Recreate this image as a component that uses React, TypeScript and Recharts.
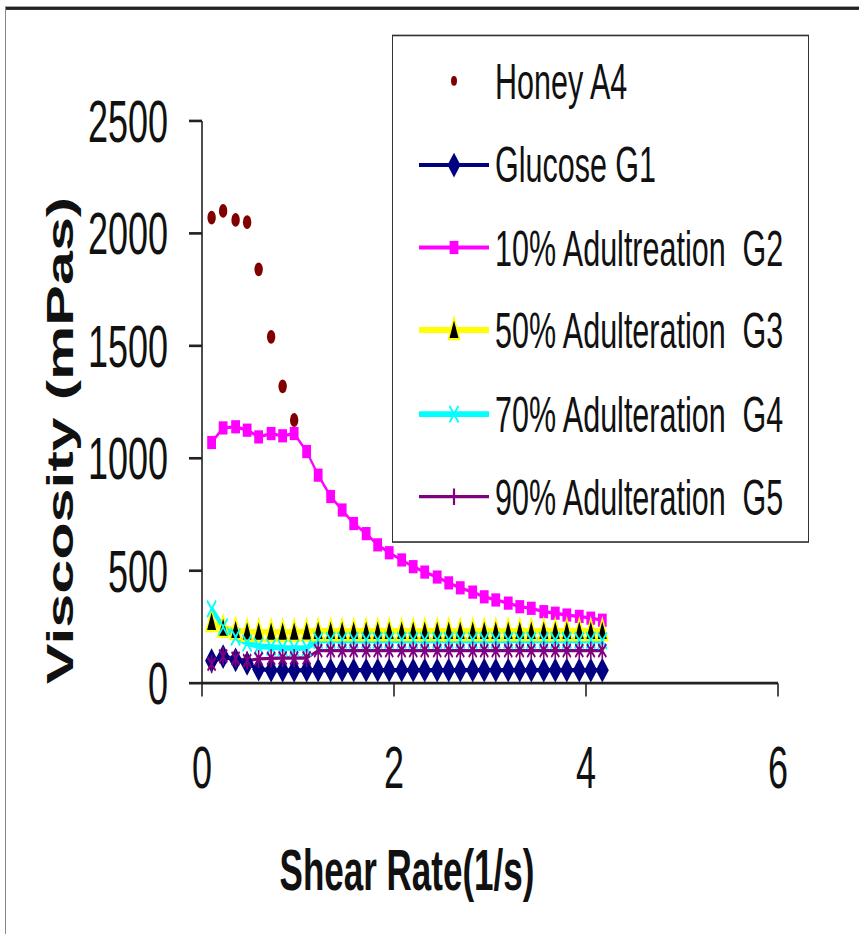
import React from 'react';
import { ComposedChart, Line, Scatter, XAxis, YAxis, Customized } from 'recharts';

// Shear rate (1/s) at which every sample was measured
const shearRate = [
  0.10, 0.22, 0.35, 0.47, 0.59, 0.72, 0.84, 0.96, 1.09, 1.21, 1.34, 1.46,
  1.58, 1.71, 1.83, 1.95, 2.08, 2.20, 2.32, 2.45, 2.57, 2.69, 2.82, 2.94,
  3.06, 3.19, 3.31, 3.43, 3.56, 3.68, 3.80, 3.93, 4.05, 4.17,
];

// Viscosity (mPas) per sample
const honeyA4 = [2070, 2100, 2060, 2050, 1840, 1540, 1320, 1170];

const glucoseG1 = [
  100, 118, 104, 88, 62, 58, 57, 57, 58, 58, 58, 58,
  58, 58, 58, 58, 58, 58, 58, 58, 58, 58, 58, 58,
  58, 58, 58, 58, 58, 58, 58, 58, 58, 58,
];

const adulteration10G2 = [
  1070, 1135, 1140, 1125, 1095, 1110, 1100, 1110, 1030, 925, 830, 770,
  710, 665, 615, 580, 548, 518, 494, 472, 446, 424, 405, 384,
  370, 356, 340, 333, 318, 311, 303, 297, 289, 280,
];

const adulteration50G3 = [
  272, 246, 236, 229, 228, 228, 228, 228, 230, 232, 232, 232,
  232, 232, 232, 232, 232, 232, 232, 232, 232, 232, 232, 232,
  232, 232, 232, 232, 232, 232, 232, 232, 232, 232,
];

const adulteration70G4 = [
  330, 250, 205, 178, 165, 160, 157, 156, 157, 190, 190, 190,
  190, 190, 190, 190, 190, 190, 190, 190, 190, 190, 190, 190,
  190, 190, 190, 190, 190, 190, 190, 190, 190, 188,
];

const adulteration90G5 = [
  85, 120, 110, 100, 108, 110, 112, 112, 112, 145, 145, 145,
  145, 145, 145, 145, 145, 145, 145, 145, 145, 145, 145, 145,
  145, 145, 145, 145, 145, 145, 145, 145, 145, 145,
];

const xTicks = [0, 2, 4, 6];
const yTicks = [0, 500, 1000, 1500, 2000, 2500];

const seriesLabels = [
  'Honey A4',
  'Glucose G1',
  '10% Adultreation  G2',
  '50% Adulteration  G3',
  '70% Adulteration  G4',
  '90% Adulteration  G5',
];

const rows = shearRate.map((x, i) => ({
  x,
  g1: glucoseG1[i],
  g2: adulteration10G2[i],
  g3: adulteration50G3[i],
  g4: adulteration70G4[i],
  g5: adulteration90G5[i],
}));
const honeyRows = honeyA4.map((v, i) => ({ x: shearRate[i], honey: v }));

// The whole figure is drawn at a compressed height and stretched vertically
const W = 859;
const H = 934;
const STRETCH = 1.65;
const H0 = H / STRETCH;

const FONT = 'Arial, "Liberation Sans", sans-serif';

const C = {
  honey: '#800000',
  g1: '#000080',
  g2: '#ff00ff',
  g3: '#ffff00',
  g4: '#00ffff',
  g5: '#800080',
};

// marker shapes
const DiamondMark = ({ cx, cy }: any) => (
  <path d={`M${cx},${cy - 7.5}L${cx + 6.5},${cy}L${cx},${cy + 7.5}L${cx - 6.5},${cy}Z`} fill={C.g1} />
);
const SquareMark = ({ cx, cy }: any) => (
  <rect x={cx - 4.4} y={cy - 4} width={8.8} height={8} fill={C.g2} />
);
const TriangleMark = ({ cx, cy }: any) => (
  <path d={`M${cx},${cy - 7.5}L${cx + 5.5},${cy + 5.5}L${cx - 5.5},${cy + 5.5}Z`} fill="#000" stroke={C.g3} strokeWidth={1.4} />
);
const CrossMark = ({ cx, cy }: any) => (
  <path d={`M${cx - 4.5},${cy - 5}L${cx + 4.5},${cy + 5}M${cx - 4.5},${cy + 5}L${cx + 4.5},${cy - 5}`} stroke={C.g4} strokeWidth={1.6} fill="none" />
);
const StarMark = ({ cx, cy }: any) => (
  <path
    d={`M${cx - 4},${cy - 4}L${cx + 4},${cy + 4}M${cx - 4},${cy + 4}L${cx + 4},${cy - 4}M${cx},${cy - 5.5}L${cx},${cy + 5.5}`}
    stroke={C.g5}
    strokeWidth={1.6}
    fill="none"
  />
);
const DotMark = ({ cx, cy }: any) => <circle cx={cx} cy={cy} r={4.2} fill={C.honey} />;
const SmallDotMark = ({ cx, cy }: any) => <circle cx={cx} cy={cy} r={3} fill={C.honey} />;
const PlusMark = ({ cx, cy }: any) => (
  <path d={`M${cx},${cy - 5}L${cx},${cy + 5}`} stroke={C.g5} strokeWidth={2.2} fill="none" />
);

const markerOf = (M: any, tag: string) => (p: any) =>
  p.cx == null || p.cy == null ? <g key={`${tag}-${p.index}`} /> : <M key={`${tag}-${p.index}`} cx={p.cx} cy={p.cy} />;

const YTick = ({ x, y, payload }: any) => (
  <text x={x} y={y} dy="0.355em" textAnchor="end" fontSize={36} fontFamily={FONT} fill="#111">
    {payload.value}
  </text>
);
const XTick = ({ x, y, payload }: any) => (
  <text x={x} y={y} dy="0.71em" textAnchor="middle" fontSize={36} fontFamily={FONT} fill="#111">
    {payload.value}
  </text>
);

const Titles = () => (
  <g>
    <text x={407} y={527} dy="0.35em" textAnchor="middle" fontSize={35} fontWeight="bold" fontFamily={FONT} fill="#111">
      Shear Rate(1/s)
    </text>
    <text
      x={60}
      y={267}
      dy="0.35em"
      textAnchor="middle"
      fontSize={37}
      fontWeight="bold"
      fontFamily={FONT}
      fill="#111"
      transform="rotate(-90, 60, 267)"
    >
      Viscosity (mPas)
    </text>
  </g>
);

const legendMarks = [
  { line: null, width: 0, M: SmallDotMark },
  { line: C.g1, width: 2.5, M: DiamondMark },
  { line: C.g2, width: 2.5, M: SquareMark },
  { line: C.g3, width: 3.5, M: TriangleMark },
  { line: C.g4, width: 3.5, M: CrossMark },
  { line: C.g5, width: 2, M: PlusMark },
];

const LegendBox = () => (
  <div
    style={{
      position: 'absolute',
      left: 392,
      top: 20.6,
      width: 417,
      height: 308,
      boxSizing: 'border-box',
      border: '1.5px solid #333',
      background: '#fff',
      paddingTop: 2.5,
    }}
  >
    {seriesLabels.map((label, i) => {
      const { line, width, M } = legendMarks[i];
      return (
        <div key={label} style={{ display: 'flex', alignItems: 'center', height: 50.4 }}>
          <svg width={102} height={20} style={{ flex: 'none' }}>
            {line && <line x1={26} x2={96} y1={10} y2={10} stroke={line} strokeWidth={width} />}
            <M cx={61} cy={10} />
          </svg>
          <span style={{ fontFamily: FONT, fontSize: 30.5, color: '#111', whiteSpace: 'pre', lineHeight: 1 }}>{label}</span>
        </div>
      );
    })}
  </div>
);

export default function App() {
  return (
    <div style={{ position: 'absolute', left: 0, top: 0, width: W, height: H, overflow: 'hidden', background: '#fff' }}>
      <div style={{ position: 'relative', width: W, height: H0, transform: `scaleY(${STRETCH})`, transformOrigin: '0 0' }}>
        <ComposedChart width={W} height={H0} data={rows} margin={{ top: 73.3, right: 81, bottom: 92, left: 0 }}>
          <XAxis
            dataKey="x"
            type="number"
            domain={[0, 6]}
            ticks={xTicks}
            height={60}
            tickSize={8}
            tickMargin={30}
            tick={<XTick />}
            axisLine={{ stroke: '#222', strokeWidth: 1.6 }}
            tickLine={{ stroke: '#222', strokeWidth: 1.6 }}
          />
          <YAxis
            type="number"
            domain={[0, 2500]}
            ticks={yTicks}
            width={202}
            tickSize={13}
            tickMargin={21}
            tick={<YTick />}
            axisLine={{ stroke: '#222', strokeWidth: 1.6 }}
            tickLine={{ stroke: '#222', strokeWidth: 1.6 }}
          />
          <Scatter data={honeyRows} dataKey="honey" shape={markerOf(DotMark, 'h')} isAnimationActive={false} />
          <Line type="linear" dataKey="g1" stroke={C.g1} strokeWidth={2.5} dot={markerOf(DiamondMark, 'g1')} isAnimationActive={false} />
          <Line type="linear" dataKey="g2" stroke={C.g2} strokeWidth={2} dot={markerOf(SquareMark, 'g2')} isAnimationActive={false} />
          <Line type="linear" dataKey="g3" stroke={C.g3} strokeWidth={3.5} dot={markerOf(TriangleMark, 'g3')} isAnimationActive={false} />
          <Line type="linear" dataKey="g4" stroke={C.g4} strokeWidth={3.5} dot={markerOf(CrossMark, 'g4')} isAnimationActive={false} />
          <Line type="linear" dataKey="g5" stroke={C.g5} strokeWidth={2} dot={markerOf(StarMark, 'g5')} isAnimationActive={false} />
          <Customized component={Titles} />
        </ComposedChart>
        <LegendBox />
        <div style={{ position: 'absolute', left: 5, top: 3.8, width: W - 5, height: 2, background: '#222' }} />
        <div style={{ position: 'absolute', left: 5, top: 3.8, width: 1.2, height: H0, background: '#888' }} />
      </div>
    </div>
  );
}
